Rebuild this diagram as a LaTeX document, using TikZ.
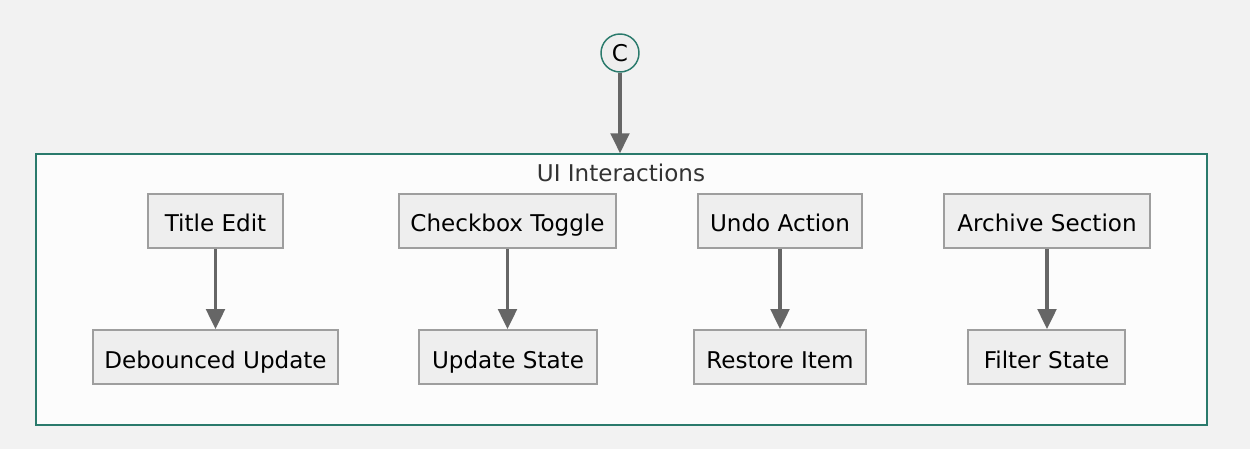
\documentclass[tikz,border=0pt]{standalone}
\usepackage{fontspec}
\setmainfont{DejaVu Sans}
\usetikzlibrary{arrows.meta}
\definecolor{bg}{HTML}{F2F2F2}
\definecolor{teal}{HTML}{2A7A6C}
\definecolor{clfill}{HTML}{FCFCFC}
\definecolor{nfill}{HTML}{EEEEEE}
\definecolor{nborder}{HTML}{9E9E9E}
\definecolor{arr}{HTML}{666666}
\definecolor{ttl}{HTML}{333333}
\tikzset{
  lbl/.style={font=\fontsize{17.3}{20}\selectfont, text height=18pt, text depth=1.5pt},
  box/.style={lbl, draw=nborder, line width=1.3pt, fill=nfill, minimum height=54*0.75pt, inner sep=0pt, text=black},
  conn/.style={draw=arr, line width=2.3pt, -{Triangle[length=15pt,width=14pt]}},
}
\begin{document}
\begin{tikzpicture}[x=0.75pt,y=-0.75pt]
\fill[bg] (0,0) rectangle (1250,449);
\useasboundingbox (0,0) rectangle (1250,449);
\node[draw=teal, line width=1.1pt, fill=clfill, minimum width=1171*0.75pt, minimum height=271*0.75pt, inner sep=0pt] (cl) at (621.5,289.5) {};
\node[lbl, text=ttl, inner sep=0pt] (clt) at (621,171) {UI Interactions};
\node[circle, draw=teal, line width=1.1pt, fill=nfill, minimum size=38*0.75pt, inner sep=0pt, font=\fontsize{17.3}{20}\selectfont] (c) at (620,53) {C};
\draw[conn] (c) -- (c |- cl.north);
\node[box, minimum width=135*0.75pt] (a1) at (215.5,221) {Title Edit};
\node[box, minimum width=217*0.75pt] (a2) at (507.5,221) {Checkbox Toggle};
\node[box, minimum width=164*0.75pt] (a3) at (780,221) {Undo Action};
\node[box, minimum width=206*0.75pt] (a4) at (1047,221) {Archive Section};
\node[box, minimum width=245*0.75pt] (b1) at (215.5,357) {Debounced Update};
\node[box, minimum width=178*0.75pt] (b2) at (508,357) {Update State};
\node[box, minimum width=172*0.75pt] (b3) at (780,357) {Restore Item};
\node[box, minimum width=157*0.75pt] (b4) at (1046.5,357) {Filter State};
\draw[conn] (a1) -- (b1);
\draw[conn] (a2) -- (a2 |- b2.north);
\draw[conn] (a3) -- (b3);
\draw[conn] (a4) -- (a4 |- b4.north);
\end{tikzpicture}
\end{document}
